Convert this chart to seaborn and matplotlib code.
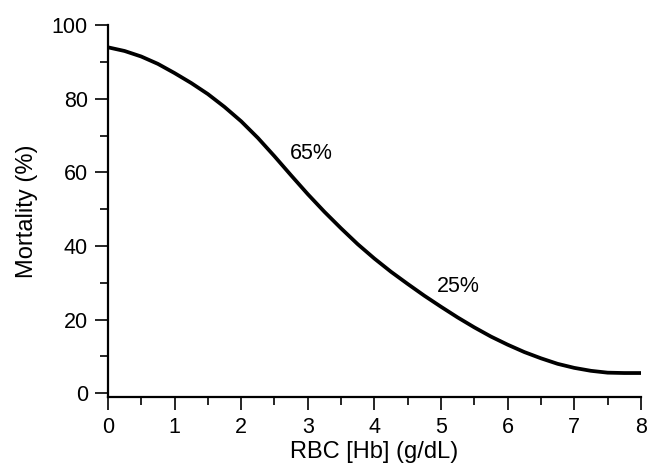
import numpy as np
import pandas as pd
import seaborn as sns
import matplotlib.pyplot as plt
from matplotlib.ticker import MultipleLocator

# values (every 0.25 g/dL)
rbc = [0, 0.25, 0.5, 0.75, 1, 1.25, 1.5, 1.75, 2, 2.25, 2.5, 2.75, 3, 3.25,
       3.5, 3.75, 4, 4.25, 4.5, 4.75, 5, 5.25, 5.5, 5.75, 6, 6.25, 6.5, 6.75,
       7, 7.25, 7.5, 7.75, 8]
mortality = [94, 93, 91.5, 89.5, 87, 84.3, 81.3, 77.8, 73.9, 69.4, 64.4, 59.2, 54.1, 49.3,
             44.8, 40.5, 36.6, 33, 29.7, 26.5, 23.5, 20.6, 17.9, 15.4, 13.2, 11.2, 9.5, 8.0,
             6.9, 6.1, 5.6, 5.5, 5.5]

notes = ['65%', '25%']
note_x = [2.73, 4.94]
note_y = [65.2, 29]

sns.set_style('ticks')
plt.rcParams['font.family'] = ['Liberation Sans', 'DejaVu Sans']
plt.rcParams['text.color'] = 'black'
plt.rcParams['axes.labelcolor'] = 'black'
plt.rcParams['xtick.color'] = 'black'
plt.rcParams['ytick.color'] = 'black'

df = pd.DataFrame({'RBC': rbc, 'Mortality': mortality})

fig = plt.figure(figsize=(6.5, 4.67), dpi=100)
ax = fig.add_axes([0.166, 0.150, 0.820, 0.796])

sns.lineplot(data=df, x='RBC', y='Mortality', color='black', linewidth=2.7, ax=ax)

for t, x, y in zip(notes, note_x, note_y):
    ax.text(x, y, t, fontsize=15.5, va='center', ha='left', color='black')

ax.set_xlim(0, 8)
ax.set_ylim(-1, 100)
ax.xaxis.set_major_locator(MultipleLocator(1))
ax.xaxis.set_minor_locator(MultipleLocator(0.5))
ax.yaxis.set_major_locator(MultipleLocator(20))
ax.yaxis.set_minor_locator(MultipleLocator(10))
ax.set_yticks(np.arange(0, 101, 20))
ax.tick_params(which='major', length=9.5, width=1.2, labelsize=15.5,
               color='black', labelcolor='black')
ax.tick_params(which='minor', length=5.5, width=1.2, color='black')
ax.tick_params(axis='x', pad=5)
ax.tick_params(axis='y', pad=5)
sns.despine(ax=ax)
for s in ['left', 'bottom']:
    ax.spines[s].set_linewidth(1.6)
    ax.spines[s].set_color('black')

ax.set_xlabel('RBC [Hb] (g/dL)', fontsize=17, labelpad=2, color='black')
ax.set_ylabel('Mortality (%)', fontsize=17, labelpad=10, color='black')

fig.savefig('out.png', dpi=100)
